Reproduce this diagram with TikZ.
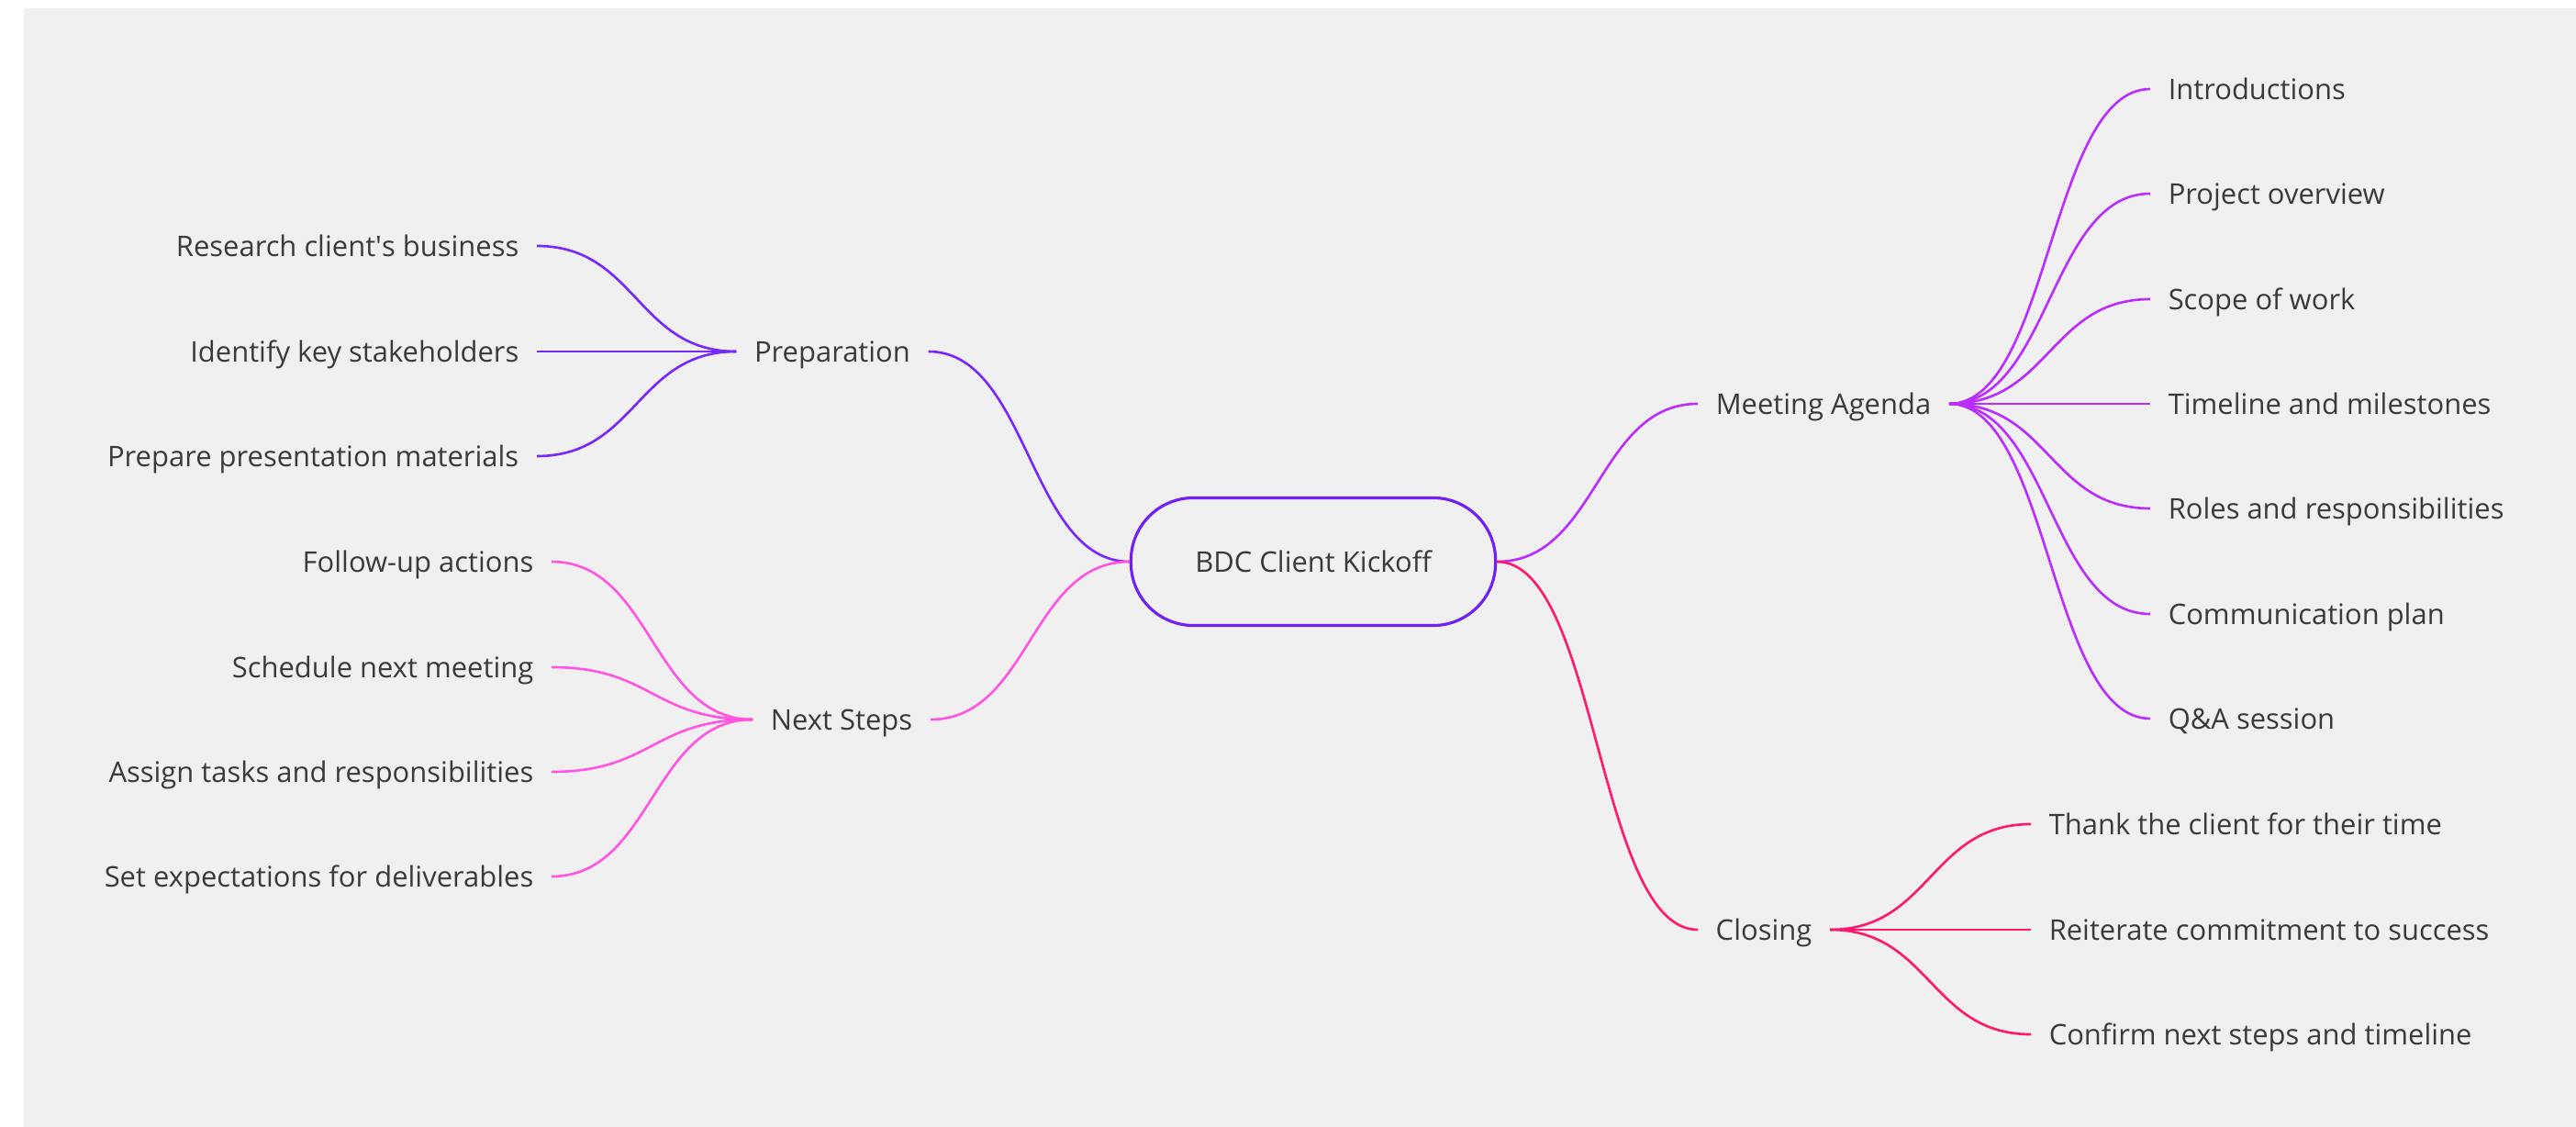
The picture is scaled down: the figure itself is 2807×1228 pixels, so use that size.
\documentclass[tikz,border=0pt]{standalone}
\usepackage{fontspec}
\setmainfont{Open Sans}
\usepackage{tikz}
\definecolor{bgGray}{RGB}{240,240,240}
\definecolor{txtGray}{RGB}{58,58,58}
\definecolor{coreViolet}{RGB}{112,32,245}
\definecolor{prepViolet}{RGB}{120,40,255}
\definecolor{agendaViolet}{RGB}{185,45,255}
\definecolor{nextPink}{RGB}{255,85,225}
\definecolor{closeRed}{RGB}{255,25,110}
\newcommand{\TS}{\fontsize{8.8}{10}\selectfont}
\newcommand{\lw}{0.75pt}
\newcommand{\Link}[3]{\path (#2) -- coordinate[pos=0.5] (mid) (#3);
                      \draw[#1,line width=\lw] (#2) .. controls (mid |- #2) and (mid |- #3) .. (#3);}
\tikzset{
    topic/.style={text=txtGray,font=\TS,inner xsep=0.19cm,inner ysep=0pt,text height=6.3pt,text depth=0pt},
    leafL/.style={topic,anchor=east},
    leafR/.style={topic,anchor=west},
    core/.style={topic,draw=coreViolet,line width=0.9pt,rounded corners=0.68cm,minimum width=3.97cm,minimum height=1.39cm}
}

\begin{document}
\begin{tikzpicture}[x=0.01cm,y=-0.01cm]
    \useasboundingbox (0,0) rectangle (2807,1228);
    \fill[bgGray] (26,9) rectangle (2807,1228);

    \node[core] (kick) at (1431,612) {BDC Client Kickoff};

    \node[topic] (prep) at (907,383) {Preparation};
    \node[topic] (next) at (917,784) {Next Steps};
    \node[topic] (agenda) at (1987,440) {Meeting Agenda};
    \node[topic] (closing) at (1922,1013) {Closing};

    % preparation
    \node[leafL] (research) at (585,268) {Research client\textquotesingle s business};
    \node[leafL] (identify) at (585,383) {Identify key stakeholders};
    \node[leafL] (prepare) at (585,497) {Prepare presentation materials};

    % next steps
    \node[leafL] (follow) at (601,612) {Follow-up actions};
    \node[leafL] (schedule) at (601,727) {Schedule next meeting};
    \node[leafL] (assign) at (601,841) {Assign tasks and responsibilities};
    \node[leafL] (expect) at (601,955) {Set expectations for deliverables};

    % meeting agenda
    \node[leafR] (intro) at (2343,97) {Introductions};
    \node[leafR] (overview) at (2343,211) {Project overview};
    \node[leafR] (scope) at (2343,326) {Scope of work};
    \node[leafR] (timeline) at (2343,440) {Timeline and milestones};
    \node[leafR] (roles) at (2343,554) {Roles and responsibilities};
    \node[leafR] (comm) at (2343,669) {Communication plan};
    \node[leafR] (qa) at (2343,783) {Q\&A session};

    % closing
    \node[leafR] (thank) at (2213,898) {Thank the client for their time};
    \node[leafR] (reiterate) at (2213,1013) {Reiterate commitment to success};
    \node[leafR] (confirm) at (2213,1127) {Confirm next steps and timeline};

    \Link{prepViolet}{kick.west}{prep.east}
    \Link{nextPink}{kick.west}{next.east}
    \Link{agendaViolet}{kick.east}{agenda.west}
    \Link{closeRed}{kick.east}{closing.west}

    \Link{prepViolet}{prep.west}{research.east}
    \Link{prepViolet}{prep.west}{identify.east}
    \Link{prepViolet}{prep.west}{prepare.east}

    \Link{nextPink}{next.west}{follow.east}
    \Link{nextPink}{next.west}{schedule.east}
    \Link{nextPink}{next.west}{assign.east}
    \Link{nextPink}{next.west}{expect.east}

    \Link{agendaViolet}{agenda.east}{intro.west}
    \Link{agendaViolet}{agenda.east}{overview.west}
    \Link{agendaViolet}{agenda.east}{scope.west}
    \Link{agendaViolet}{agenda.east}{timeline.west}
    \Link{agendaViolet}{agenda.east}{roles.west}
    \Link{agendaViolet}{agenda.east}{comm.west}
    \Link{agendaViolet}{agenda.east}{qa.west}

    \Link{closeRed}{closing.east}{thank.west}
    \Link{closeRed}{closing.east}{reiterate.west}
    \Link{closeRed}{closing.east}{confirm.west}
\end{tikzpicture}
\end{document}
